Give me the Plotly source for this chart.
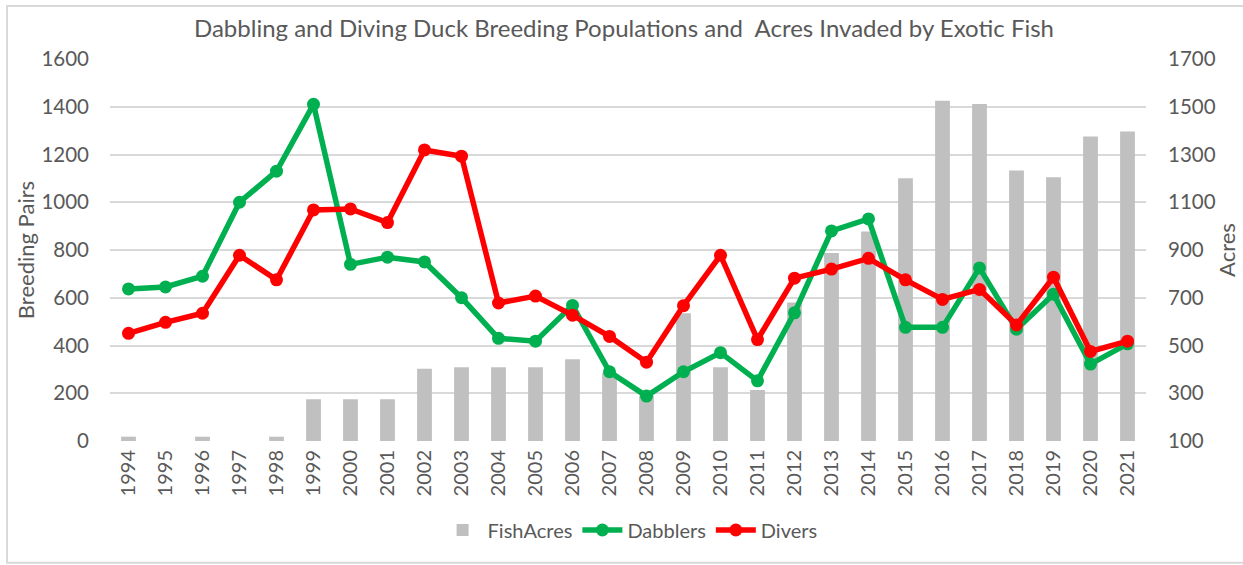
import plotly.graph_objects as go

years = [str(y) for y in range(1994, 2022)]
fish_acres = [118, 0, 118, 0, 118, 275, 275, 275, 403, 409, 409, 409, 442, 385,
              290, 635, 409, 314, 680, 887, 977, 1201, 1525, 1512, 1233, 1205, 1375, 1396]
dabblers = [637, 645, 690, 1000, 1130, 1410, 740, 770, 750, 600, 430, 418, 568, 290,
            188, 290, 370, 252, 537, 880, 930, 476, 476, 725, 468, 615, 322, 407]
divers = [451, 497, 535, 778, 675, 968, 972, 915, 1219, 1193, 578, 607, 527, 438,
          330, 567, 778, 425, 682, 720, 765, 675, 593, 635, 486, 686, 375, 418]

TXT = "#595959"
FONT = "Lato"

fig = go.Figure()
fig.add_trace(go.Bar(x=years, y=fish_acres, name="FishAcres", marker_color="#c0c0c0",
                     marker_line_width=0, yaxis="y"))
fig.add_trace(go.Scatter(x=years, y=dabblers, name="Dabblers", mode="lines+markers",
                         line=dict(color="#00b050", width=5.5), marker=dict(size=13, color="#00b050"),
                         yaxis="y2"))
fig.add_trace(go.Scatter(x=years, y=divers, name="Divers", mode="lines+markers",
                         line=dict(color="#ff0000", width=5.5), marker=dict(size=13, color="#ff0000"),
                         yaxis="y2"))

fig.update_layout(
    width=1243, height=565,
    margin=dict(l=110, r=97, t=59, b=124, autoexpand=False),
    paper_bgcolor="white", plot_bgcolor="white",
    font=dict(family=FONT, color=TXT, size=20),
    title=dict(text="Dabbling and Diving Duck Breeding Populations and  Acres Invaded by Exotic Fish",
               x=0.502, xanchor="center", y=0.95, yanchor="middle",
               font=dict(size=24, color=TXT, family=FONT)),
    bargap=0.6,
    showlegend=True,
    legend=dict(orientation="h", x=0.502, xanchor="center", y=-0.233, yanchor="middle",
                font=dict(size=20, color=TXT), traceorder="normal", itemwidth=40),
    xaxis=dict(type="category", range=[-0.5, 27.5], tickangle=-90, showgrid=False, showline=False,
               ticks="", tickfont=dict(size=20, color=TXT), ticklabelstandoff=4,
               automargin=False),
    yaxis=dict(side="right", range=[100, 1700], tickvals=list(range(100, 1701, 200)),
               showgrid=True, gridcolor="#d9d9d9", gridwidth=2, zeroline=False,
               showline=False, ticks="", tickfont=dict(size=20.5, color=TXT),
               title=dict(text="Acres", font=dict(size=22, color=TXT), standoff=4),
               ticklabelstandoff=21, automargin=False),
    yaxis2=dict(side="left", overlaying="y", range=[0, 1600], tickvals=list(range(0, 1601, 200)),
                showgrid=False, zeroline=False, showline=False, ticks="",
                tickfont=dict(size=20.5, color=TXT),
                title=dict(text="Breeding Pairs", font=dict(size=22, color=TXT), standoff=0),
                ticklabelstandoff=20, automargin=False),
    shapes=[dict(type="rect", xref="paper", yref="paper",
                 x0=-0.0994, x1=1.4, y0=-0.319, y1=1.139,
                 line=dict(color="#d9d9d9", width=2), fillcolor="rgba(0,0,0,0)", layer="below")],
)

fig.write_html("out.html")
